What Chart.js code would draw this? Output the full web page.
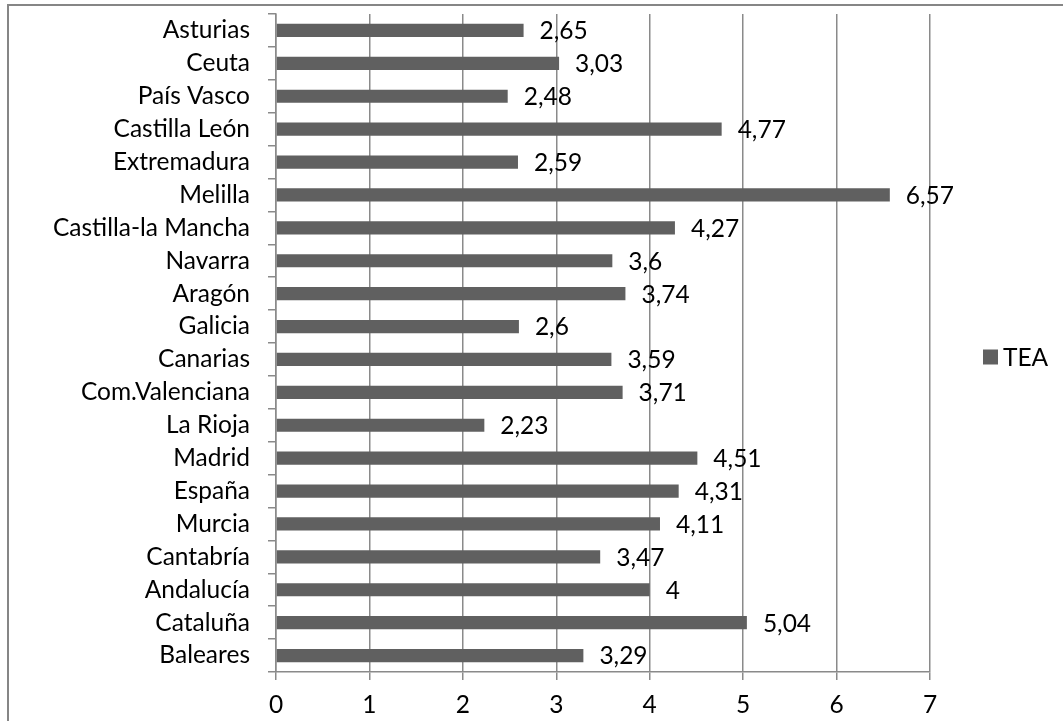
<!DOCTYPE html>
<html>
<head>
<meta charset="utf-8">
<script src="https://cdn.jsdelivr.net/npm/chart.js@4/dist/chart.umd.min.js"></script>
<style>
  html, body { margin: 0; padding: 0; background: #fff; }
  #wrap { position: relative; width: 1063px; height: 721px; overflow: hidden; }
  #frame { position: absolute; left: 7px; top: 4px; width: 1100px; height: 800px;
           border-top: 2px solid #868686; border-left: 2px solid #868686; box-sizing: border-box; }
  #c { position: absolute; left: 0; top: 0; }
</style>
</head>
<body>
<div id="wrap">
  <div id="frame"></div>
  <canvas id="c" width="1063" height="721"></canvas>
</div>
<script>
// TEA por comunidad autónoma
const regions = [
  'Asturias', 'Ceuta', 'País Vasco', 'Castilla León', 'Extremadura', 'Melilla',
  'Castilla-la Mancha', 'Navarra', 'Aragón', 'Galicia', 'Canarias', 'Com.Valenciana',
  'La Rioja', 'Madrid', 'España', 'Murcia', 'Cantabría', 'Andalucía', 'Cataluña', 'Baleares'
];
const teaValues = [
  2.65, 3.03, 2.48, 4.77, 2.59, 6.57,
  4.27, 3.6, 3.74, 2.6, 3.59, 3.71,
  2.23, 4.51, 4.31, 4.11, 3.47, 4, 5.04, 3.29
];
const seriesName = 'TEA';
const xTickValues = [0, 1, 2, 3, 4, 5, 6, 7];

const FONT = { family: 'Lato', size: 24.5 };
const BAR = '#606060';
const GRID = '#8a8a8a';

const fmt = v => String(v).replace('.', ',');

// value labels to the right of each bar
const valueLabels = {
  id: 'valueLabels',
  afterDatasetsDraw(chart) {
    const ctx = chart.ctx;
    const meta = chart.getDatasetMeta(0);
    ctx.save();
    ctx.font = `${FONT.size}px ${FONT.family}`;
    ctx.fillStyle = '#000';
    ctx.textAlign = 'left';
    ctx.textBaseline = 'middle';
    meta.data.forEach((bar, i) => {
      ctx.fillText(fmt(teaValues[i]), bar.x + 16, bar.y + 1);
    });
    ctx.restore();
  }
};

// series key on the right of the plot
const sideLegend = {
  id: 'sideLegend',
  afterDraw(chart) {
    const ctx = chart.ctx;
    const area = chart.chartArea;
    const ds = chart.data.datasets[0];
    const cy = (area.top + area.bottom) / 2 + 14;
    const x0 = area.right + 53;
    ctx.save();
    ctx.fillStyle = ds.backgroundColor;
    ctx.fillRect(x0, cy - 7.5, 15, 15);
    ctx.font = `${FONT.size}px ${FONT.family}`;
    ctx.fillStyle = '#000';
    ctx.textAlign = 'left';
    ctx.textBaseline = 'middle';
    ctx.fillText(ds.label, x0 + 20, cy + 1);
    ctx.restore();
  }
};

new Chart(document.getElementById('c'), {
  type: 'bar',
  data: {
    labels: regions,
    datasets: [{
      label: seriesName,
      data: teaValues,
      backgroundColor: BAR,
      borderWidth: 0,
      barPercentage: 0.4,
      categoryPercentage: 1
    }]
  },
  options: {
    indexAxis: 'y',
    responsive: false,
    animation: false,
    events: [],
    layout: { padding: { left: 8, top: 14, right: 133, bottom: 0 } },
    plugins: { legend: { display: false }, tooltip: { enabled: false } },
    scales: {
      x: {
        min: 0, max: 7,
        afterBuildTicks: s => { s.ticks = xTickValues.map(v => ({ value: v })); },
        afterFit: s => { s.height = 49; s.paddingLeft = 0; s.paddingRight = 0; },
        ticks: { color: '#000', font: FONT, padding: 10, callback: v => fmt(v) },
        grid: { color: GRID, lineWidth: 1.5, tickLength: 8, drawTicks: true },
        border: { color: GRID, width: 1.5 }
      },
      y: {
        afterFit: s => { s.width = 268; s.paddingTop = 0; s.paddingBottom = 0; },
        ticks: { color: '#000', font: FONT, padding: 18, autoSkip: false },
        grid: { color: GRID, lineWidth: 1.5, tickLength: 8, offset: true, drawOnChartArea: false },
        border: { color: GRID, width: 1.5 }
      }
    }
  },
  plugins: [valueLabels, sideLegend]
});
</script>
</body>
</html>
